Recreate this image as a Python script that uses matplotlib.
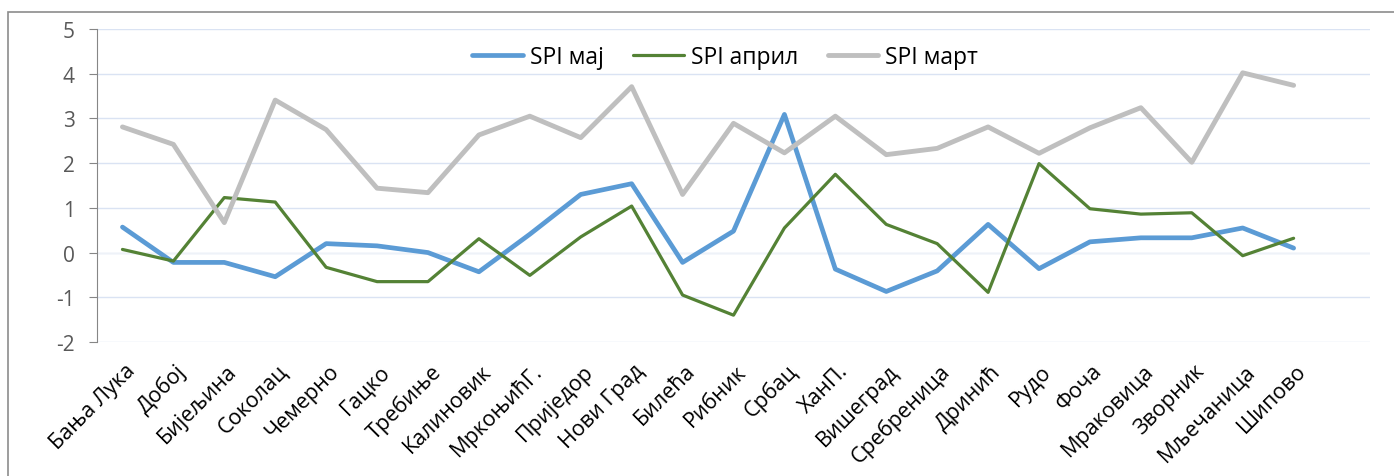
import matplotlib
matplotlib.use("Agg")
import matplotlib.pyplot as plt
import matplotlib.transforms as mtransforms
from matplotlib.patches import Rectangle

plt.rcParams["font.family"] = ["Open Sans", "DejaVu Sans"]
plt.rcParams["axes.unicode_minus"] = False

stations = [
    "Бања Лука", "Добој", "Бијељина", "Соколац", "Чемерно", "Гацко",
    "Требиње", "Калиновик", "МркоњићГ.", "Приједор", "Нови Град", "Билећа",
    "Рибник", "Србац", "ХанП.", "Вишеград", "Сребреница", "Дринић",
    "Рудо", "Фоча", "Мраковица", "Зворник", "Мљечаница", "Шипово",
]
spi_maj = [0.57, -0.22, -0.22, -0.54, 0.20, 0.15, 0.00, -0.43, 0.41, 1.30,
           1.54, -0.22, 0.48, 3.09, -0.37, -0.87, -0.41, 0.63, -0.36, 0.24,
           0.33, 0.33, 0.55, 0.10]
spi_april = [0.07, -0.19, 1.23, 1.13, -0.33, -0.65, -0.65, 0.31, -0.51, 0.35,
             1.04, -0.95, -1.40, 0.55, 1.75, 0.63, 0.20, -0.89, 1.99, 0.98,
             0.86, 0.89, -0.07, 0.32]
spi_mart = [2.81, 2.42, 0.67, 3.41, 2.75, 1.44, 1.34, 2.63, 3.05, 2.57,
            3.71, 1.30, 2.89, 2.23, 3.05, 2.19, 2.33, 2.81, 2.22, 2.79,
            3.24, 2.02, 4.02, 3.74]

W, H = 1394, 477
fig = plt.figure(figsize=(W / 100, H / 100), dpi=100)
ax = fig.add_axes([97 / W, (H - 343) / H, (1370 - 97) / W, (343 - 30) / H])

# chart frame (cropped at right and bottom)
fig.patches.append(Rectangle((8 / W, -0.05), 1.1, 1 - 13 / H + 0.05,
                             transform=fig.transFigure, fill=False,
                             edgecolor="#8C8C8C", linewidth=1.2))

x = range(len(stations))
ax.plot(x, spi_maj, color="#5B9BD5", lw=3.4, solid_capstyle="round",
        solid_joinstyle="round", label="SPI мај", zorder=3)
ax.plot(x, spi_april, color="#548235", lw=2.3, solid_capstyle="round",
        solid_joinstyle="round", label="SPI април", zorder=3)
ax.plot(x, spi_mart, color="#BFBFBF", lw=3.5, solid_capstyle="round",
        solid_joinstyle="round", label="SPI март", zorder=3)

ax.set_xlim(-0.5, 24.5)
ax.set_ylim(-2, 5)
ax.set_yticks(range(-2, 6))
ax.yaxis.grid(True, color="#DAE3F3", lw=1.0)
ax.set_axisbelow(True)
ax.axhline(0, color="#EEF2F8", lw=1.0, zorder=1)

for s in ["top", "right", "bottom"]:
    ax.spines[s].set_visible(False)
ax.spines["left"].set_color("#868686")
ax.tick_params(axis="y", length=6, color="#868686", labelcolor="#595959",
               labelsize=15, pad=10)
ax.set_xticks(list(x))
ax.set_xticklabels(stations, rotation=45, ha="right", va="top",
                   rotation_mode="anchor", fontsize=15.5)
ax.tick_params(axis="x", length=0, pad=13)
shift = mtransforms.ScaledTranslation(2 / 100, 0, fig.dpi_scale_trans)
for lab in ax.get_xticklabels():
    lab.set_transform(lab.get_transform() + shift)

fig.legend(loc="center", bbox_to_anchor=(725 / W, 1 - 58 / H), ncol=3,
           frameon=False, fontsize=16.5, handlelength=2.2, columnspacing=1.3,
           handletextpad=0.3)

fig.savefig("out.png", dpi=100)
